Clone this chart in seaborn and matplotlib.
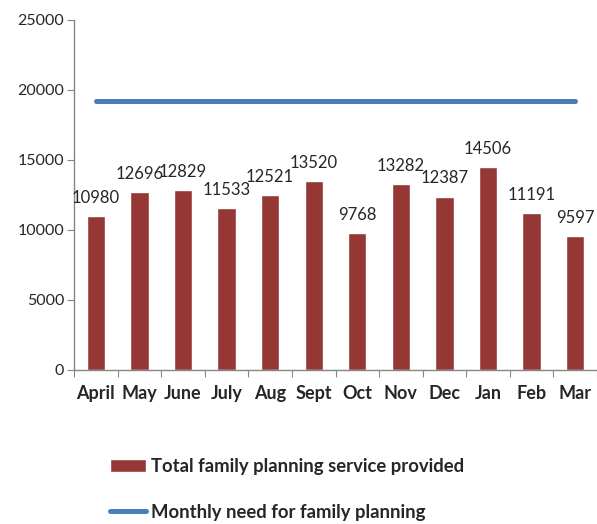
import pandas as pd
from matplotlib import pyplot as plt
import seaborn as sns

months = ['April', 'May', 'June', 'July', 'Aug', 'Sept', 'Oct', 'Nov', 'Dec', 'Jan', 'Feb', 'Mar']
provided = [10980, 12696, 12829, 11533, 12521, 13520, 9768, 13282, 12387, 14506, 11191, 9597]
monthly_need = [19200] * 12

bar_label = 'Total family planning service provided'
line_label = 'Monthly need for family planning'


def execute_plot():
    data = pd.DataFrame({'month': months, 'provided': provided, 'need': monthly_need})

    sns.set_style('white')
    plt.rcParams['font.family'] = ['Lato', 'DejaVu Sans']

    fig = plt.figure(figsize=(5.97, 5.24), dpi=100)
    ax = fig.add_axes([0.124, 0.294, 0.876, 0.668])

    sns.barplot(data=data, x='month', y='provided', color='#953735',
                saturation=1, width=0.42, ax=ax)
    line, = ax.plot(range(len(months)), data['need'], color='#4A7EBB', lw=3.6,
                    solid_capstyle='round')

    for p, v in zip(ax.patches, provided):
        ax.annotate(str(v), (p.get_x() + p.get_width() / 2, v),
                    xytext=(0, 13), textcoords='offset points',
                    ha='center', va='center', fontsize=12)

    ax.set_ylim(0, 25000)
    ax.set_yticks(range(0, 25001, 5000))
    ax.set_xlim(-0.5, len(months) - 0.5)
    ax.set_xticks([i - 0.5 for i in range(len(months) + 1)], minor=False)
    ax.set_xticklabels([])
    ax.set_xticks(range(len(months)), minor=True)
    ax.set_xticklabels(months, minor=True, fontweight='bold', fontsize=13)
    ax.tick_params(axis='x', which='major', length=5, color='#868686', direction='out', bottom=True)
    ax.tick_params(axis='x', which='minor', length=0, pad=11)
    ax.tick_params(axis='y', length=5, color='#868686', direction='out', left=True, labelsize=11.5, pad=2)
    ax.set_xlabel('')
    ax.set_ylabel('')

    for s in ['top', 'right']:
        ax.spines[s].set_visible(False)
    for s in ['left', 'bottom']:
        ax.spines[s].set_color('#868686')
        ax.spines[s].set_linewidth(1)

    bar_handle = ax.patches[0]
    fig.legend([bar_handle, line], [bar_label, line_label], loc='upper left',
               bbox_to_anchor=(0.185, 0.126),
               frameon=False, prop={'weight': 'bold', 'size': 13.3},
               handlelength=1.95, handletextpad=0.25, labelspacing=1.55,
               borderaxespad=0, borderpad=0)

    plt.savefig('out.png', dpi=100)


if __name__ == '__main__':
    execute_plot()
